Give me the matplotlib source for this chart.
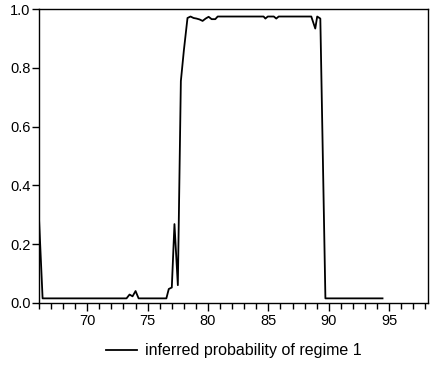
import matplotlib
matplotlib.use("Agg")
import matplotlib.pyplot as plt
from matplotlib.ticker import MultipleLocator

plt.rcParams['font.family'] = ['Liberation Sans', 'DejaVu Sans']

years = [66.0, 66.3, 73.25, 73.5, 73.75, 74.0, 74.25, 76.55, 76.75, 77.0,
         77.22, 77.5, 77.75, 78.0, 78.3, 78.55, 78.8, 79.05, 79.3, 79.55,
         79.8, 80.05, 80.3, 80.6, 80.8, 84.6, 84.75, 84.95, 85.45, 85.65,
         85.85, 88.55, 88.88, 89.04, 89.3, 89.72, 94.45]
prob = [0.29, 0.015, 0.015, 0.028, 0.022, 0.04, 0.015, 0.015, 0.047, 0.052,
        0.268, 0.06, 0.755, 0.86, 0.97, 0.975, 0.97, 0.968, 0.965, 0.96,
        0.968, 0.974, 0.966, 0.966, 0.975, 0.975, 0.968, 0.975, 0.975, 0.968,
        0.975, 0.975, 0.934, 0.975, 0.968, 0.015, 0.015]
label = 'inferred probability of regime 1'

fig = plt.figure(figsize=(4.33, 3.67), dpi=100)
ax = fig.add_axes([0.090, 0.175, 0.898, 0.800])
ax.plot(years, prob, color='black', linewidth=1.3, label=label)
ax.set_xlim(66.0, 98.2)
ax.set_ylim(0.0, 1.0)
ax.xaxis.set_minor_locator(MultipleLocator(1))
ax.set_yticks([0.0, 0.2, 0.4, 0.6, 0.8, 1.0])
ax.set_yticklabels(['0.0', '0.2', '0.4', '0.6', '0.8', '1.0'])
ax.set_xticks([70, 75, 80, 85, 90, 95])
ax.set_xticklabels(['70', '75', '80', '85', '90', '95'])
ax.tick_params(axis='both', direction='out', colors='black', labelsize=10.5, width=1.0)
ax.tick_params(axis='x', which='major', length=6, pad=2)
ax.tick_params(axis='x', which='minor', length=4, width=1.0)
ax.tick_params(axis='y', which='major', length=5, pad=1)
for s in ax.spines.values():
    s.set_linewidth(1.0)
    s.set_color('black')

fig.legend(loc='lower center', bbox_to_anchor=(0.54, -0.015), frameon=False,
           fontsize=11.5, handlelength=1.95, handletextpad=0.45)
fig.savefig('out.png', dpi=100)
